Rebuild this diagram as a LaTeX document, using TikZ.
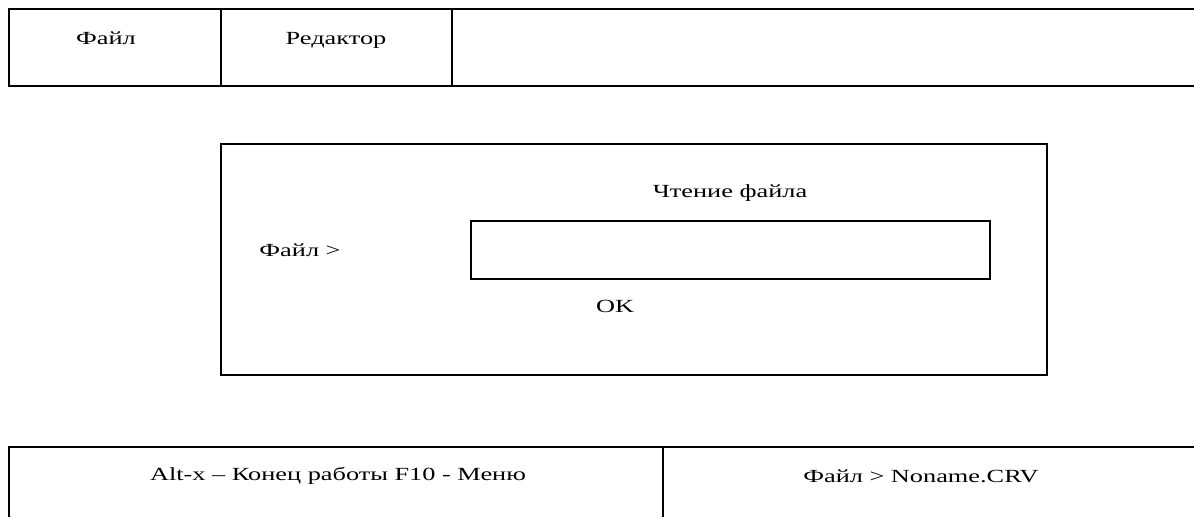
\documentclass[tikz,border=0pt]{standalone}
\usepackage{fontspec}
\setmainfont{Liberation Serif}[FakeStretch=1.42]
\usepackage{tikz}
\usetikzlibrary{positioning}

\begin{document}
\begin{tikzpicture}[
  x=0.75pt, y=-0.75pt,
  frame/.style={draw, line width=1.3pt},
  txt/.style={font=\fontsize{13.9}{16}\selectfont, inner sep=0pt}
]
\useasboundingbox (0,0) rectangle (1194,517);

% --- Menu bar ---
\draw[frame] (1194,9) -- (9,9) -- (9,86) -- (1194,86);
\draw[frame] (221,9) -- (221,86);
\draw[frame] (452,9) -- (452,86);
\node[txt] (mfile) at (106,38) {Файл};
\node[txt] (medit) at (336,40) {Редактор};

% --- Dialog ---
\draw[frame] (221,144) rectangle (1047,375);
\draw[frame] (471,221) rectangle (990,279);
\node[txt] (dtitle) at (730,193) {Чтение файла};
\node[txt] (dfile) at (300,250) {Файл >};
\node[txt] (dok) at (615,306) {OK};

% --- Status bar ---
\draw[frame] (9,517) -- (9,447) -- (1194,447);
\draw[frame] (663,447) -- (663,517);
\node[txt] (skeys) at (338,476) {Alt-x – Конец работы F10 - Меню};
\node[txt] (sname) at (921,476) {Файл > Noname.CRV};

\end{tikzpicture}
\end{document}
